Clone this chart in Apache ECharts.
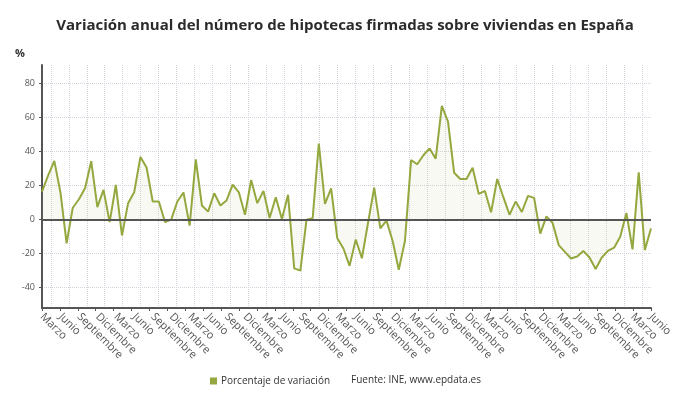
<!DOCTYPE html>
<html><head><meta charset="utf-8">
<script src="https://cdn.jsdelivr.net/npm/echarts@6/dist/echarts.min.js"></script>
<style>html,body{margin:0;padding:0;background:#fff}#c{width:690px;height:405px}</style>
</head><body><div id="c"></div>
<script>
// Month names (labels); series starts in March
const monthNames = ["Enero","Febrero","Marzo","Abril","Mayo","Junio","Julio","Agosto","Septiembre","Octubre","Noviembre","Diciembre"];
const startMonth = 2;
// Annual variation (%) of mortgages signed on homes, monthly
const values = [
  16.5, 26, 34.6, 16, -14, 7, 12, 18.5, 34.4, 7.4,
  17.5, -1.5, 20.4, -9.3, 9.7, 16.3, 36.9, 30.7, 10.7, 10.7,
  -1.5, 0, 10.7, 16, -3.5, 35.5, 8.3, 4.7, 15.5, 8.3,
  11.3, 20.6, 16.1, 2.9, 23.3, 9.7, 16.9, 1, 13.2, 0.4,
  14.6, -28.7, -30, 0, 0.8, 44.7, 9.3, 18.4, -11, -17,
  -27.2, -11.7, -22.7, -2, 18.8, -5.2, -0.6, -12.6, -29.5, -12.6,
  35, 32.6, 37.9, 41.9, 35.9, 67, 57.7, 27.6, 23.9, 23.9,
  30.5, 15.1, 16.9, 4.3, 23.9, 13.2, 2.9, 10.7, 4.5, 14,
  12.8, -8.2, 1.9, -1.9, -15, -19, -22.9, -21.7, -18.4, -22.3,
  -29.1, -22.3, -18.4, -16.5, -10.1, 3.9, -17.5, 27.8, -17.9, -5.2
];
const yTickValues = [-40, -20, 0, 20, 40, 60, 80];
const quarterCount = 34;

const categories = values.map((_, i) => monthNames[(startMonth + i) % 12]);
const quarterCenters = Array.from({length: quarterCount}, (_, i) => i + 0.5);

const lineColor = '#93a83e';
const gridColor = '#d4d1dc';
const font = 'Open Sans';

const chart = echarts.init(document.getElementById('c'), null, {renderer: 'canvas'});
chart.setOption({
  animation: false,
  backgroundColor: '#fff',
  title: [
    {text: 'Variación anual del número de hipotecas firmadas sobre viviendas en España', left: 'center', top: 18, padding: 0,
     textStyle: {fontFamily: font, fontWeight: 'bold', fontSize: 15, color: '#2b2b2b'}},
    {text: '%', left: 15, top: 48, padding: 0, textStyle: {fontFamily: font, fontWeight: 'bold', fontSize: 11, color: '#333'}},
    {text: 'Fuente: INE, www.epdata.es', left: 351, top: 375, padding: 0,
     textStyle: {fontFamily: font, fontWeight: 'normal', fontSize: 10, color: '#333'}}
  ],
  legend: {data: ['Porcentaje de variación'], left: 210, top: 376, padding: 0, icon: 'rect', itemWidth: 7, itemHeight: 7, itemGap: 4,
    textStyle: {fontFamily: font, fontSize: 10, color: '#333', padding: [0, 0, 0, -1]}},
  grid: {left: 42, right: 39, top: 65, bottom: 97},
  xAxis: [
    {type: 'category', data: categories, boundaryGap: false, position: 'bottom',
     axisLine: {onZero: false, lineStyle: {color: '#555', width: 2}},
     axisTick: {show: false},
     axisLabel: {interval: 2, rotate: -45, fontFamily: font, fontSize: 11, color: '#555', margin: 7},
     splitLine: {show: false}},
    {type: 'value', min: 0, max: quarterCount, interval: 1, position: 'bottom',
     axisLine: {show: false, onZero: false}, axisLabel: {show: false},
     axisTick: {show: true, length: 3, lineStyle: {color: '#555'}}, splitLine: {show: false}},
    {type: 'value', min: 0, max: quarterCount, position: 'bottom',
     axisLine: {show: false, onZero: false}, axisLabel: {show: false},
     axisTick: {show: false, customValues: quarterCenters},
     splitLine: {show: true, lineStyle: {color: gridColor, type: 'dotted', width: 1}}}
  ],
  yAxis: {type: 'value', min: -52, max: 91,
    axisLine: {show: true, onZero: false, lineStyle: {color: '#555', width: 2}},
    axisTick: {show: true, length: 3, customValues: yTickValues, lineStyle: {color: '#555'}},
    axisLabel: {customValues: yTickValues, fontFamily: font, fontSize: 9, color: '#555', margin: 7},
    splitLine: {show: true, lineStyle: {color: gridColor, type: 'dotted', width: 1}}},
  series: [{
    name: 'Porcentaje de variación', type: 'line', data: values, xAxisIndex: 0, symbol: 'none',
    lineStyle: {color: lineColor, width: 2}, itemStyle: {color: lineColor},
    areaStyle: {color: 'rgba(190,190,130,0.13)'},
    markLine: {silent: true, symbol: 'none', label: {show: false}, animation: false,
      lineStyle: {color: '#555', width: 2, type: 'solid'}, data: [{yAxis: 0}]}
  }]
});
</script>
</body></html>
